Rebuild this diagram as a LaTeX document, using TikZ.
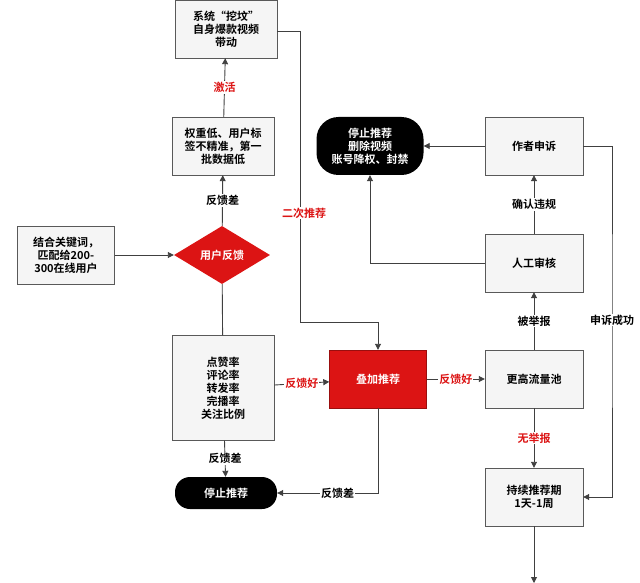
\documentclass[tikz,border=0pt]{standalone}
\usepackage{fontspec}
\setmainfont{Noto Sans CJK SC}[BoldFont={Noto Sans CJK SC Bold}]
\usetikzlibrary{shapes.geometric,arrows.meta}
\definecolor{flowred}{RGB}{220,20,20}
\begin{document}
\begin{tikzpicture}[x=1pt,y=-1pt,
    every node/.style={font=\bfseries\fontsize{11}{13}\selectfont, align=center},
    box/.style={draw=gray!70!black, fill=gray!8, minimum width=100pt, minimum height=58pt, inner sep=1pt},
    redbox/.style={box, fill=flowred, draw=flowred!70!black, text=white},
    stopbox/.style={fill=black, text=white, rounded corners=15pt, minimum width=102pt, inner sep=2pt},
    decision/.style={diamond, aspect=1.7, fill=flowred, text=white, inner sep=0pt, minimum width=96pt, minimum height=58pt},
    lbl/.style={fill=white, inner sep=1pt},
    redlbl/.style={lbl, text=flowred},
    flow/.style={draw=black!75, line width=0.9pt, -{Triangle[length=6pt,width=6pt]}}]
    \useasboundingbox (0,0) rectangle (640,583);

    % Nodes
    \node[box, minimum width=102pt] (sys) at (226,29) {系统“挖坟”\\自身爆款视频\\带动};
    \node[box, minimum width=102pt] (weight) at (223,146) {权重低、用户标\\签不精准，第一\\批数据低};
    \node[decision] (feedback) at (222,255) {用户反馈};
    \node[box, minimum width=97pt] (match) at (66,255) {结合关键词，\\匹配给200-\\300在线用户};
    \node[box, minimum width=102pt, minimum height=105pt] (rates) at (223,388) {点赞率\\评论率\\转发率\\完播率\\关注比例};
    \node[stopbox, minimum height=32pt] (stopA) at (226,493) {停止推荐};
    \node[redbox, minimum width=97pt] (boost) at (378,379) {叠加推荐};
    \node[box, minimum width=98pt] (pool) at (534,379) {更高流量池};
    \node[box, minimum width=98pt] (keep) at (534,497) {持续推荐期\\1天-1周};
    \node[box, minimum width=98pt] (review) at (534,263) {人工审核};
    \node[box, minimum width=98pt] (appeal) at (534,146) {作者申诉};
    \node[stopbox, minimum width=107pt, minimum height=58pt, rounded corners=22pt] (stopB) at (370,146) {停止推荐\\删除视频\\账号降权、封禁};
    \coordinate (tail) at (534,583);

    % Edges
    \draw[flow] (match) -- (feedback);
    \draw[flow] (feedback) -- node[lbl] {反馈差} (weight);
    \draw[flow] (weight) -- node[redlbl] {激活} (sys);
    \draw[flow] (sys.east |- 0,31) -| (300,322) -| (boost);
    \node[redlbl] (again) at (304,213) {二次推荐};
    \draw[draw=black!75, line width=0.9pt] (feedback) -- (rates);
    \draw[flow] (rates) -- node[redlbl] {反馈好} (boost);
    \draw[flow] (boost) -- node[redlbl] {反馈好} (pool);
    \draw[flow] (rates) -- node[lbl] {反馈差} (stopA);
    \draw[flow] (boost) |- node[lbl, pos=0.7] {反馈差} (stopA);
    \draw[flow] (pool) -- node[lbl] {被举报} (review);
    \draw[flow] (pool) -- node[redlbl] {无举报} (keep);
    \draw[flow] (review) -- node[lbl] {确认违规} (appeal);
    \draw[flow] (review) -| (stopB);
    \draw[flow] (appeal) -- (stopB);
    \draw[flow] (appeal) -| (612,320) node[lbl] {申诉成功} |- (keep);
    \draw[flow] (keep) -- (tail);
\end{tikzpicture}
\end{document}
